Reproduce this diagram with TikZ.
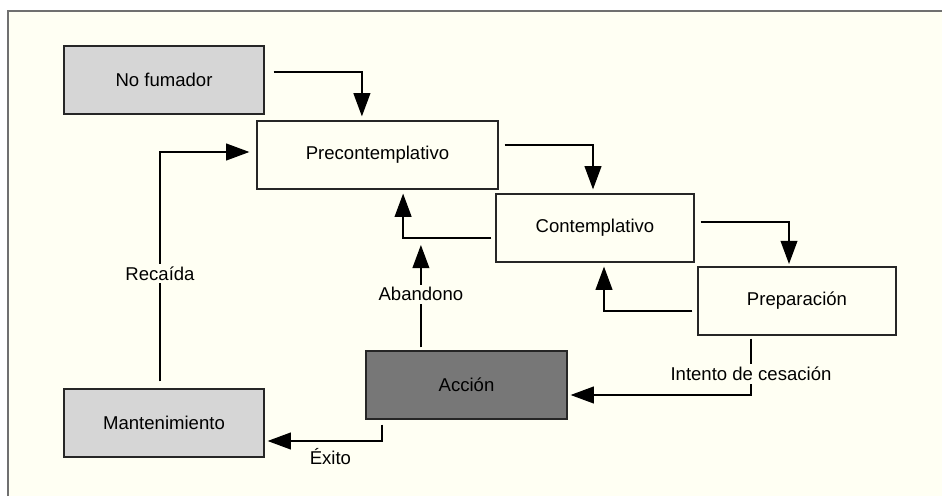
\documentclass[tikz,border=0pt]{standalone}
\usepackage{fontspec}
\setmainfont{Liberation Sans}
\usepackage{xcolor}
\usetikzlibrary{positioning,calc,arrows.meta}

\definecolor{paper}{HTML}{FFFFF3}
\definecolor{framegray}{HTML}{707070}
\definecolor{lightstage}{HTML}{D6D6D6}
\definecolor{darkstage}{HTML}{777777}

\begin{document}
\begin{tikzpicture}[
    every node/.style={font=\fontsize{13.2}{16}\selectfont},
    stage/.style={draw=black!85, line width=0.9pt, fill=paper, minimum height=1.7cm, inner sep=0pt},
    flow/.style={draw=black, line width=0.9pt, -{Triangle[length=16.5pt,width=12pt]}, shorten <=0.15cm, shorten >=0.1cm},
    tag/.style={fill=paper, inner sep=2pt},
]

% =====================================================================
% Page frame
% =====================================================================
\useasboundingbox (0,0) rectangle (23.55,12.4);
\fill[paper] (0.2,0) rectangle (23.55,12.125);
\draw[framegray, line width=1.4pt] (0.2,0) -- (0.2,12.125) -- (23.55,12.125);

% =====================================================================
% Stages of change
% =====================================================================
\node[stage, fill=lightstage, minimum width=5cm] (nofum) at (4.1,10.4) {No fumador};
\node[stage, minimum width=6.025cm] (precon) at (9.4375,8.525) {Precontemplativo};
\node[stage, minimum width=4.95cm] (contem) at (14.875,6.7) {Contemplativo};
\node[stage, minimum width=4.95cm] (prep) at (19.925,4.875) {Preparación};
\node[stage, fill=darkstage, minimum width=5.025cm] (accion) at (11.6625,2.775) {Acción};
\node[stage, fill=lightstage, minimum width=5cm] (mant) at (4.1,1.825) {Mantenimiento};

% Forward steps down the staircase
\draw[flow, shorten <=0.225cm] ([yshift=0.2cm]nofum.east) -| ([xshift=-0.39cm]precon.north);
\draw[flow] ([yshift=0.25cm]precon.east) -| ([xshift=-0.05cm]contem.north);
\draw[flow, shorten >=0.06cm] ([yshift=0.15cm]contem.east) -| ([xshift=-0.2cm]prep.north);

% Steps back
\draw[flow, shorten <=0.1cm] ([yshift=-0.25cm]contem.west) -| ([xshift=0.64cm]precon.south);
\draw[flow, shorten <=0.125cm] ([yshift=-0.25cm]prep.west) -| ([xshift=0.225cm]contem.south);

% Abandono joins the step back to Precontemplativo
\coordinate (abfoot) at ([xshift=-1.14cm]accion.north);
\coordinate (backline) at ([yshift=-0.25cm]contem.west);
\draw[flow, shorten <=0.075cm, shorten >=0.175cm] (abfoot) -- node[tag] {Abandono} (abfoot |- backline);

% Intento de cesacion
\draw[flow, shorten <=0.075cm, shorten >=0.075cm]
    ([xshift=-1.15cm]prep.south) |- node[tag, pos=0.325] {Intento de cesación} ([yshift=-0.25cm]accion.east);

% Exito
\draw[flow, shorten <=0.125cm, shorten >=0.075cm]
    ([xshift=-2.11cm]accion.south) |- node[below=0.175cm, pos=0.72, inner sep=0pt] {Éxito} ([yshift=-0.45cm]mant.east);

% Recaida
\draw[flow, shorten <=0.175cm, shorten >=0.175cm]
    ([xshift=-0.1cm]mant.north) |- node[tag, pos=0.243] {Recaída} ([yshift=0.075cm]precon.west);

\end{tikzpicture}
\end{document}
